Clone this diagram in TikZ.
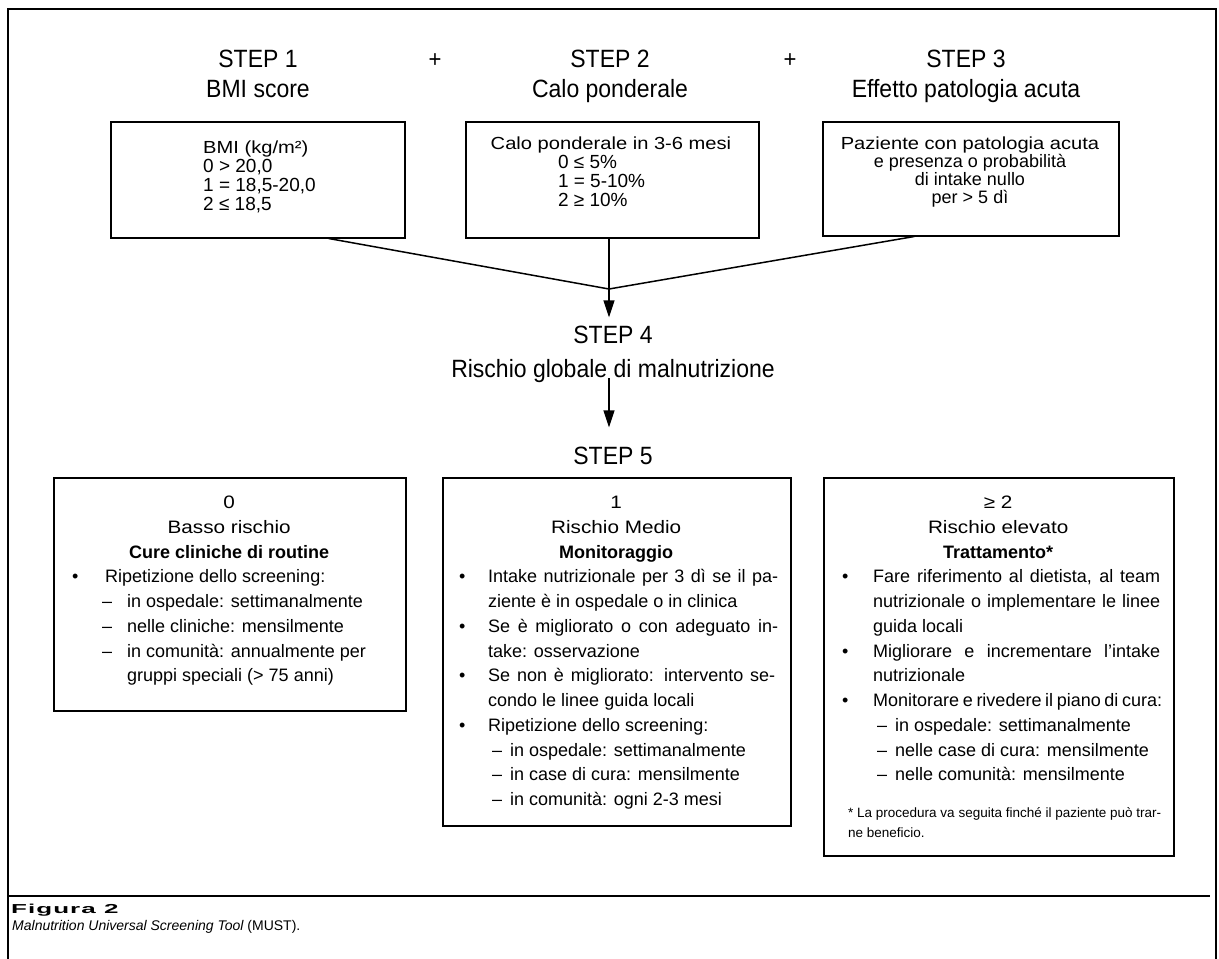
\documentclass[tikz,border=0pt]{standalone}
\usepackage{fontspec}
\setmainfont{Liberation Sans}
\newfontfamily\boxfont{Liberation Sans}[FakeStretch=1.15]
\newfontfamily\titfont{Liberation Sans}[FakeStretch=0.92]
\newfontfamily\capfont{Liberation Sans}[FakeStretch=2.0,LetterSpace=8]
\usetikzlibrary{arrows.meta,calc}
\newcommand{\fsz}[2]{\fontsize{#1}{#2}\selectfont}
\newcommand{\bitem}[3]{\par\noindent\hangindent=#2\hangafter=1\relax\rlap{\hspace*{#1}•}\hspace*{#2}#3}
\newcommand{\ditem}[3]{\par\noindent\hangindent=#2\hangafter=1\relax\rlap{\hspace*{#1}–}\hspace*{#2}#3}
\newcommand{\jl}[2]{\makebox[#1][s]{#2}}
\tikzset{
  boxn/.style={draw, line width=1.5pt, inner sep=0pt, anchor=north west},
  txt/.style={inner sep=0pt},
  ln/.style={line width=1.5pt},
  arr/.style={line width=1.5pt, -{Triangle[length=17pt,width=11pt]}},
  frame/.style={line width=1.4pt}
}
\begin{document}
\begin{tikzpicture}[x=1pt,y=-1pt]
\useasboundingbox (0,0) rectangle (1219,959);
% outer frame
\draw[frame] (8,959) -- (8,9) -- (1216,9) -- (1216,959);
\draw[frame] (8,896) -- (1210,896);

% titles
\node[txt, anchor=base] (t1) at (258,67) {\parbox[t]{300pt}{\titfont\fsz{25}{30}\centering STEP 1\\ BMI score}};
\node[txt, anchor=base] (t2) at (610,67) {\parbox[t]{300pt}{\titfont\fsz{25}{30}\centering STEP 2\\ Calo ponderale}};
\node[txt, anchor=base] (t3) at (966,67) {\parbox[t]{330pt}{\titfont\fsz{25}{30}\centering STEP 3\\ Effetto patologia acuta}};
\node[txt, anchor=base] (p1) at (435,67) {\titfont\fsz{24}{30}+};
\node[txt, anchor=base] (p2) at (790,67) {\titfont\fsz{24}{30}+};

% top boxes
\node[boxn, minimum width=294pt, minimum height=116pt] (b1) at (110,121) {};
\node[boxn, minimum width=293pt, minimum height=116pt] (b2) at (465,121) {};
\node[boxn, minimum width=296pt, minimum height=114pt] (b3) at (822,121) {};

\node[txt, anchor=base west] (b1t) at (203,153) {\parbox[t]{190pt}{\fsz{19}{19}\raggedright
  {\boxfont\fsz{17.5}{19}BMI (kg/m²)}\\ 0 > 20,0\\ 1 = 18,5-20,0\\ 2 ≤ 18,5}};
\node[txt, anchor=base] (b2t) at (611,149) {\parbox[t]{280pt}{\fsz{19}{19}\centering
  {\boxfont\fsz{17.5}{19}Calo ponderale in 3-6 mesi}\par\raggedright\leftskip=87pt
  0 ≤ 5\%\\ 1 = 5-10\%\\ 2 ≥ 10\%}};
\node[txt, anchor=base] (b3t) at (970,149) {\parbox[t]{290pt}{\fsz{18}{18}\centering
  {\boxfont\fsz{17.5}{18}Paziente con patologia acuta}\\ e presenza o probabilità\\ di intake nullo\\ per > 5 dì}};

% step 4 / 5
\coordinate (j) at (609,289);
\node[txt, anchor=base] (s4) at (613,343) {\titfont\fsz{25}{30}STEP 4};
\node[txt, anchor=base] (s4b) at (613,377) {\titfont\fsz{25}{30}Rischio globale di malnutrizione};
\node[txt, anchor=base] (s5) at (613,464) {\titfont\fsz{25}{30}STEP 5};

\draw[ln] ($(b1.south west)!0.74!(b1.south east)$) -- (j);
\draw[ln] ($(b3.south west)!0.31!(b3.south east)$) -- (j);
\draw[arr, shorten >=8pt] (b2.south -| j) -- (j) -- (j |- s4.north);
\draw[arr, shorten >=19pt, shorten <=1pt] (j |- s4b.base) -- (j |- s5.north);

% bottom boxes
\node[boxn, minimum width=352pt, minimum height=233pt] (bA) at (53,477) {};
\node[boxn, minimum width=348pt, minimum height=348pt] (bB) at (442,477) {};
\node[boxn, minimum width=350pt, minimum height=378pt] (bC) at (823,477) {};

\node[txt, anchor=base west] (bAt) at (63,508.5) {\parbox[t]{332pt}{\fsz{18}{24.75}\centering
  {\boxfont 0}\\ {\boxfont Basso rischio}\\ {\bfseries Cure cliniche di routine}\par\raggedright
  \bitem{9pt}{42pt}{Ripetizione dello screening:}
  \ditem{39pt}{64pt}{in ospedale: settimanalmente}
  \ditem{39pt}{64pt}{nelle cliniche: mensilmente}
  \ditem{39pt}{64pt}{in comunità: annualmente per\newline gruppi speciali (> 75 anni)}\par}};

\node[txt, anchor=base west] (bBt) at (452,508.5) {\parbox[t]{328pt}{\fsz{18}{24.75}\centering
  {\boxfont 1}\\ {\boxfont Rischio Medio}\\ {\bfseries Monitoraggio}\par\raggedright
  \bitem{7pt}{36pt}{\jl{290pt}{Intake nutrizionale per 3 dì se il pa-}\newline ziente è in ospedale o in clinica}
  \bitem{7pt}{36pt}{\jl{290pt}{Se è migliorato o con adeguato in-}\newline take: osservazione}
  \bitem{7pt}{36pt}{\jl{287pt}{Se non è migliorato: intervento se-}\newline condo le linee guida locali}
  \bitem{7pt}{36pt}{Ripetizione dello screening:}
  \ditem{40pt}{58pt}{in ospedale: settimanalmente}
  \ditem{40pt}{58pt}{in case di cura: mensilmente}
  \ditem{40pt}{58pt}{in comunità: ogni 2-3 mesi}\par}};

\node[txt, anchor=base west] (bCt) at (833,508.5) {\parbox[t]{330pt}{\fsz{18}{24.75}\centering
  {\boxfont ≥ 2}\\ {\boxfont Rischio elevato}\\ {\bfseries Trattamento*}\par\raggedright
  \bitem{9pt}{40pt}{\jl{287pt}{Fare riferimento al dietista, al team}\newline \jl{287pt}{nutrizionale o implementare le linee}\newline guida locali}
  \bitem{9pt}{40pt}{\jl{287pt}{Migliorare e incrementare l’intake}\newline nutrizionale}
  \bitem{9pt}{40pt}{\jl{289pt}{Monitorare e rivedere il piano di cura:}}
  \ditem{44pt}{62pt}{in ospedale: settimanalmente}
  \ditem{44pt}{62pt}{nelle case di cura: mensilmente}
  \ditem{44pt}{62pt}{nelle comunità: mensilmente}\par
  \vspace{16.5pt}
  {\fsz{13.5}{20}\noindent\hspace*{15pt}\mbox{* La procedura va seguita finché il paziente può trar-}\newline
   \hspace*{15pt}ne beneficio.\par}}};

% caption
\node[txt, anchor=base west] (cap1) at (11,913) {\fsz{13}{16}\capfont\bfseries Figura 2};
\node[txt, anchor=base west] (cap2) at (12,930) {\fsz{14}{16}\itshape Malnutrition Universal Screening Tool \upshape(MUST).};
\end{tikzpicture}
\end{document}
